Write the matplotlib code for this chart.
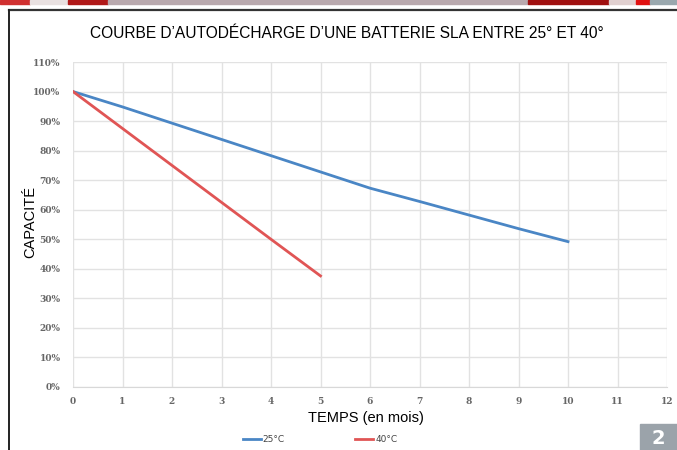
import matplotlib.pyplot as plt
from matplotlib.patches import Rectangle
from matplotlib.lines import Line2D

months_25 = [0, 1, 2, 3, 4, 5, 6, 7, 8, 9, 10]
capa_25 = [100, 94.8, 89.3, 83.8, 78.3, 72.8, 67.3, 62.8, 58.2, 53.6, 49.2]
months_40 = [0, 1, 2, 3, 4, 5]
capa_40 = [100, 87.5, 75.0, 62.5, 50.0, 37.6]
y_ticks = list(range(0, 111, 10))
x_ticks = list(range(0, 13))

blue = '#4a86c5'
red = '#e05555'

fig = plt.figure(figsize=(6.77, 4.5), dpi=100)

# decorative frame
for x0, x1, c in [(0, 0.045, '#d03030'), (0.045, 0.10, '#e8e0e0'), (0.10, 0.16, '#b01818'),
                  (0.16, 0.78, '#b9a9ae'),
                  (0.78, 0.90, '#a01010'), (0.90, 0.94, '#e0d0d0'), (0.94, 0.96, '#e01010'),
                  (0.96, 1.0, '#9aa8ae')]:
    fig.patches.append(Rectangle((x0, 1 - 4 / 450), x1 - x0, 4 / 450, transform=fig.transFigure,
                                 color=c, zorder=0))
fig.lines.append(Line2D([9 / 677, 1], [1 - 10 / 450, 1 - 10 / 450], transform=fig.transFigure,
                        color='#333333', lw=1.6))
fig.lines.append(Line2D([9 / 677, 9 / 677], [0, 1 - 10 / 450], transform=fig.transFigure,
                        color='#222222', lw=1.4))
fig.patches.append(Rectangle((640 / 677, 0), 37 / 677, 26 / 450, transform=fig.transFigure,
                             color='#9ba3aa', zorder=0))
fig.text(658 / 677, 2 / 450, '2', color='white', fontsize=14, fontweight='bold',
         ha='center', va='bottom')

ax = fig.add_axes([73 / 677, 63 / 450, 594 / 677, 325 / 450])
l1, = ax.plot(months_25, capa_25, color=blue, lw=2)
l2, = ax.plot(months_40, capa_40, color=red, lw=2)

ax.set_xlim(0, 12)
ax.set_ylim(0, 110)
ax.set_xticks(x_ticks)
ax.set_yticks(y_ticks)
ax.set_yticklabels([f'{v}%' for v in y_ticks])
ax.grid(True, color='#e2e2e2', lw=1)
for s in ax.spines.values():
    s.set_visible(False)
ax.spines['bottom'].set_visible(True)
ax.spines['bottom'].set_color('#d8d8d8')
ax.tick_params(length=0, labelsize=6.5, labelcolor='#666666')
ax.tick_params(axis='x', pad=7)
ax.tick_params(axis='y', pad=9)
for lab in ax.get_xticklabels() + ax.get_yticklabels():
    lab.set_family('DejaVu Serif')
    lab.set_fontweight('bold')

fig.text(347 / 677, 1 - 33 / 450, 'COURBE D’AUTODÉCHARGE D’UNE BATTERIE SLA ENTRE 25° ET 40°',
         fontsize=11.2, ha='center', va='center', family='Liberation Sans')
fig.text(366 / 677, 1 - 418 / 450, 'TEMPS (en mois)', fontsize=10.5, ha='center', va='center',
         family='Liberation Sans')
fig.text(30 / 677, 1 - 222 / 450, 'CAPACITÉ', fontsize=10.5, ha='center', va='center',
         rotation=90, family='Liberation Sans')

fig.legend([l1, l2], ['25°C', '40°C'], loc='center', bbox_to_anchor=(320 / 677, 1 - 440 / 450),
           ncol=2, frameon=False, fontsize=6.5, handlelength=2.0, columnspacing=7.8,
           handletextpad=0.2, labelcolor='#444444', borderpad=0)

fig.savefig('out.png', dpi=100)
